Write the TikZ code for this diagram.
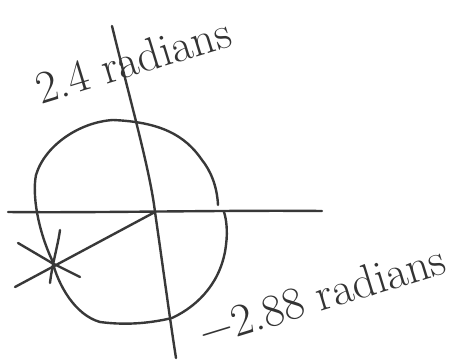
\documentclass[tikz,border=0pt]{standalone}
\usepackage{fontspec}
\begin{document}
\begin{tikzpicture}[x=1pt,y=-1pt,
  pen/.style={line width=2.4pt,draw=black!78,line cap=round,line join=round},
  hand/.style={font=\fontsize{46}{46}\selectfont,text=black!80,inner sep=0pt}]
\useasboundingbox (0,0) rectangle (456,362);
% axes
\coordinate (hl) at (8,212);
\coordinate (hr) at (322,211);
\coordinate (vt) at (112,26);
\coordinate (vb) at (176,358);
\coordinate (o) at (155,212);
\draw[pen] (hl) .. controls (100,213) and (220,210) .. (hr);
\draw[pen] (vt) .. controls (130,100) and (150,170) .. (o) .. controls (162,260) and (170,320) .. (vb);
% circle (hand-drawn, two strokes)
\draw[pen] (218,205) .. controls (217,185) and (210,170) .. (202,160)
  .. controls (185,135) and (160,122) .. (113,120)
  .. controls (80,122) and (45,145) .. (36,175)
  .. controls (32,195) and (38,230) .. (52,260)
  .. controls (58,285) and (75,315) .. (100,322)
  .. controls (130,326) and (155,322) .. (172,318)
  .. controls (200,305) and (222,280) .. (226,245)
  .. controls (228,230) and (226,218) .. (224,212);
% radius line
\coordinate (p) at (15,287);
\draw[pen] (o) -- (p);
% star
\coordinate (s) at (52,263);
\draw[pen] (18,243) -- (s) -- (80,277);
\draw[pen] (60,230) .. controls (58,245) and (52,265) .. (50,283);
% labels
\node[hand,rotate=17] (t1) at (133,60) {2.4 radians};
\node[hand,rotate=17] (t2) at (322,295) {−2.88 radians};
\end{tikzpicture}
\end{document}
